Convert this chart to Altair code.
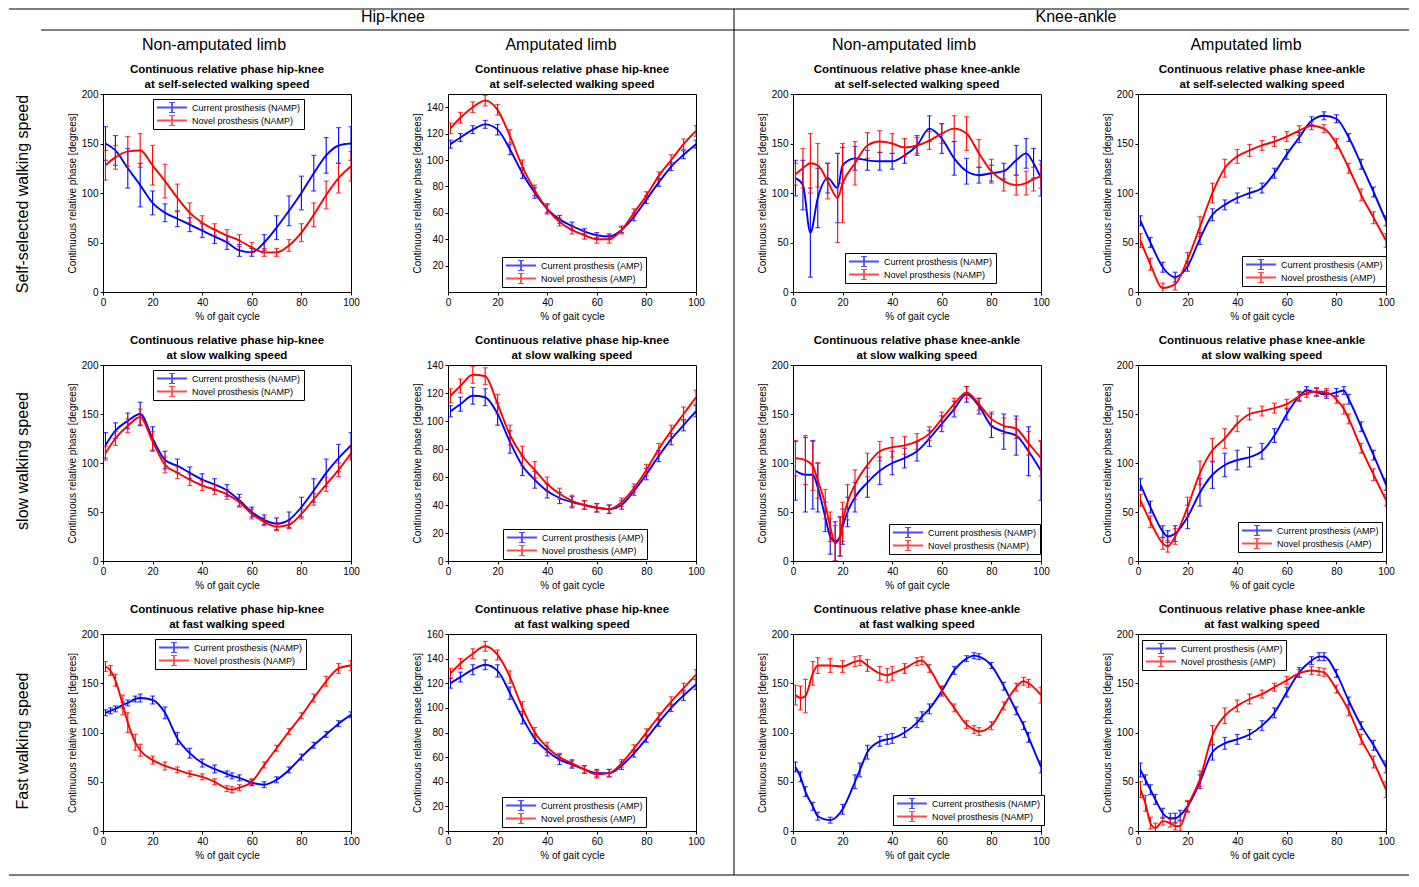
import altair as alt
import pandas as pd

FONT = "Liberation Sans"
BLUE = "#0000ff"
RED = "#ff0000"

# ---------------- data ----------------
X_GRID = [1, 5, 10, 15, 20, 25, 30, 35, 40, 45, 50, 55, 60, 65, 70, 75, 80, 85, 90, 95, 100]

# Row 1: self-selected speed
X11 = X_GRID
CUR_MEAN_11 = [150, 143, 125, 108, 90, 80, 74, 68, 62, 56, 50, 42, 40, 50, 65, 82, 100, 120, 138, 148, 150]
CUR_SD_11 = [17, 15, 20, 22, 12, 9, 8, 7, 7, 7, 7, 6, 4, 8, 12, 15, 17, 18, 18, 18, 17]
NOV_MEAN_11 = [128, 136, 142, 143, 128, 112, 95, 80, 70, 63, 57, 52, 45, 40, 40, 47, 60, 78, 98, 115, 127]
NOV_SD_11 = [15, 12, 15, 17, 20, 17, 14, 10, 7, 6, 6, 6, 5, 4, 4, 6, 9, 12, 14, 15, 15]

X12 = X_GRID
CUR_MEAN_12 = [112, 117, 123, 127, 123, 108, 90, 75, 63, 55, 50, 46, 43, 42, 47, 57, 70, 83, 95, 104, 112]
CUR_SD_12 = [3, 3, 3, 3, 4, 4, 4, 4, 3, 3, 3, 2, 2, 2, 2, 3, 3, 3, 3, 3, 3]
NOV_MEAN_12 = [124, 132, 140, 145, 138, 118, 95, 77, 63, 53, 47, 43, 40, 40, 47, 60, 73, 88, 100, 112, 122]
NOV_SD_12 = [4, 4, 4, 4, 4, 5, 5, 4, 4, 3, 3, 3, 3, 3, 3, 3, 3, 3, 4, 4, 4]

X13 = [1, 4, 7, 10, 14, 18, 20, 25, 30, 35, 40, 45, 50, 55, 60, 65, 70, 75, 80, 85, 90, 94, 97, 100]
CUR_MEAN_13 = [115, 108, 60, 95, 115, 105, 128, 135, 133, 132, 132, 138, 148, 165, 155, 135, 122, 118, 120, 122, 133, 140, 130, 115]
CUR_SD_13 = [18, 25, 45, 30, 15, 35, 18, 12, 10, 9, 8, 8, 10, 13, 15, 17, 13, 8, 8, 8, 15, 15, 15, 18]
NOV_MEAN_13 = [119, 125, 130, 128, 112, 95, 110, 130, 148, 152, 150, 146, 148, 153, 160, 165, 160, 140, 122, 112, 108, 110, 114, 117]
NOV_SD_13 = [11, 20, 30, 22, 18, 45, 40, 22, 13, 11, 10, 9, 8, 9, 10, 13, 17, 14, 12, 10, 10, 12, 12, 12]

X14 = X_GRID
CUR_MEAN_14 = [72, 50, 25, 15, 26, 54, 78, 88, 95, 100, 105, 120, 139, 156, 173, 178, 175, 156, 129, 101, 72]
CUR_SD_14 = [5, 5, 5, 5, 5, 6, 6, 5, 5, 5, 5, 5, 5, 5, 4, 4, 4, 4, 5, 5, 5]
NOV_MEAN_14 = [52, 28, 4, 8, 33, 66, 100, 125, 137, 143, 148, 152, 157, 163, 168, 165, 150, 125, 98, 75, 52]
NOV_SD_14 = [7, 6, 5, 6, 7, 10, 10, 9, 7, 6, 5, 5, 5, 5, 4, 4, 5, 5, 6, 6, 7]

# Row 2: slow speed
X21 = X_GRID
CUR_MEAN_21 = [118, 133, 143, 150, 125, 103, 97, 90, 83, 78, 72, 62, 50, 42, 38, 42, 55, 72, 90, 105, 118]
CUR_SD_21 = [13, 8, 8, 12, 12, 9, 7, 6, 6, 6, 6, 6, 5, 5, 6, 8, 10, 12, 14, 14, 13]
NOV_MEAN_21 = [110, 125, 138, 147, 122, 98, 90, 83, 77, 73, 68, 60, 48, 40, 35, 37, 48, 63, 78, 93, 110]
NOV_SD_21 = [7, 7, 7, 8, 10, 8, 6, 6, 5, 5, 5, 5, 5, 4, 4, 4, 5, 6, 7, 7, 7]

X22 = X_GRID
CUR_MEAN_22 = [107, 112, 118, 117, 105, 85, 68, 58, 50, 45, 42, 40, 38, 37, 40, 50, 62, 75, 87, 97, 107]
CUR_SD_22 = [4, 5, 6, 6, 8, 8, 7, 6, 5, 4, 4, 3, 3, 3, 3, 3, 4, 4, 4, 4, 4]
NOV_MEAN_22 = [118, 125, 133, 132, 112, 90, 75, 65, 55, 48, 43, 40, 38, 37, 42, 52, 65, 80, 93, 105, 117]
NOV_SD_22 = [5, 5, 6, 6, 7, 7, 7, 6, 5, 4, 4, 3, 3, 3, 3, 3, 4, 4, 4, 5, 5]

X23 = [1, 5, 8, 10, 13, 15, 17, 19, 20, 22, 25, 30, 35, 40, 45, 50, 55, 60, 65, 70, 75, 80, 85, 90, 95, 100]
CUR_MEAN_23 = [92, 88, 88, 75, 45, 25, 20, 25, 35, 50, 65, 80, 92, 100, 105, 112, 125, 140, 155, 170, 158, 138, 132, 128, 112, 92]
CUR_SD_23 = [30, 38, 35, 25, 15, 18, 20, 20, 18, 15, 15, 15, 14, 12, 10, 10, 8, 8, 8, 8, 8, 12, 18, 20, 25, 30]
NOV_MEAN_23 = [105, 103, 97, 82, 58, 35, 18, 25, 40, 60, 78, 98, 112, 116, 118, 122, 130, 145, 160, 172, 160, 145, 138, 135, 120, 105]
NOV_SD_23 = [18, 25, 25, 18, 15, 15, 18, 20, 20, 18, 15, 12, 10, 10, 9, 8, 7, 7, 6, 6, 6, 7, 8, 10, 12, 18]

X24 = [1, 5, 10, 12, 15, 20, 25, 30, 35, 40, 45, 50, 55, 60, 65, 68, 72, 76, 80, 83, 85, 90, 95, 100]
CUR_MEAN_24 = [78, 55, 30, 25, 28, 45, 70, 88, 98, 103, 106, 112, 128, 150, 168, 174, 172, 170, 172, 174, 165, 137, 108, 78]
CUR_SD_24 = [6, 6, 6, 6, 8, 12, 14, 14, 12, 10, 10, 8, 7, 6, 5, 4, 4, 4, 4, 4, 5, 5, 5, 6]
NOV_MEAN_24 = [62, 40, 18, 15, 25, 55, 90, 113, 125, 140, 150, 153, 156, 160, 168, 171, 173, 172, 165, 155, 145, 115, 88, 62]
NOV_SD_24 = [6, 6, 6, 6, 8, 10, 12, 12, 10, 8, 6, 5, 5, 5, 4, 4, 4, 4, 4, 5, 5, 5, 6, 6]

# Row 3: fast speed
X31 = [1, 3, 5, 8, 10, 13, 15, 20, 25, 30, 35, 40, 45, 50, 52, 55, 60, 65, 70, 75, 80, 85, 90, 95, 100]
CUR_MEAN_31 = [120, 122, 124, 128, 130, 134, 135, 133, 120, 94, 79, 69, 63, 58, 56, 54, 49, 47, 52, 62, 75, 87, 98, 109, 118]
CUR_SD_31 = [3, 3, 3, 3, 3, 3, 4, 4, 6, 6, 5, 4, 4, 3, 3, 3, 3, 3, 3, 3, 3, 3, 3, 3, 3]
NOV_MEAN_31 = [167, 163, 153, 128, 110, 90, 82, 72, 66, 62, 58, 55, 50, 43, 42, 44, 50, 67, 84, 101, 117, 135, 152, 165, 168]
NOV_SD_31 = [5, 5, 6, 10, 10, 8, 6, 4, 4, 3, 3, 3, 3, 3, 3, 3, 3, 3, 3, 3, 3, 4, 5, 5, 5]

X32 = X_GRID
CUR_MEAN_32 = [120, 125, 131, 135, 130, 112, 92, 75, 65, 58, 54, 50, 47, 47, 53, 63, 75, 88, 100, 110, 119]
CUR_SD_32 = [4, 4, 4, 4, 5, 5, 5, 4, 4, 4, 3, 3, 3, 3, 3, 3, 3, 3, 3, 4, 4]
NOV_MEAN_32 = [128, 136, 144, 150, 143, 125, 100, 80, 68, 60, 55, 50, 46, 47, 55, 67, 80, 93, 105, 116, 127]
NOV_SD_32 = [4, 4, 4, 4, 4, 5, 5, 4, 4, 3, 3, 3, 3, 3, 3, 3, 3, 3, 4, 4, 4]

X33 = [1, 3, 5, 8, 10, 15, 20, 25, 27, 30, 35, 38, 40, 45, 50, 52, 55, 60, 65, 70, 73, 75, 80, 85, 90, 93, 95, 100]
CUR_MEAN_33 = [65, 55, 40, 25, 15, 11, 22, 50, 62, 80, 91, 93, 94, 100, 110, 116, 124, 142, 163, 175, 178, 177, 168, 147, 122, 107, 95, 65]
CUR_SD_33 = [5, 5, 5, 4, 4, 3, 5, 7, 7, 7, 5, 5, 5, 5, 5, 5, 5, 5, 4, 3, 3, 3, 3, 4, 4, 4, 5, 6]
NOV_MEAN_33 = [138, 135, 137, 160, 168, 168, 167, 172, 173, 168, 160, 158, 160, 165, 172, 173, 165, 143, 125, 108, 103, 101, 107, 127, 146, 152, 150, 138]
NOV_SD_33 = [10, 12, 17, 12, 8, 7, 6, 5, 5, 6, 7, 7, 7, 5, 4, 4, 4, 4, 4, 4, 4, 4, 4, 4, 4, 4, 4, 8]

X34 = [1, 3, 5, 7, 10, 13, 15, 17, 20, 25, 30, 35, 40, 45, 50, 55, 60, 65, 70, 73, 75, 80, 85, 90, 95, 100]
CUR_MEAN_34 = [62, 52, 42, 32, 18, 13, 13, 16, 25, 50, 80, 89, 93, 98, 107, 120, 141, 161, 173, 177, 177, 160, 132, 107, 87, 65]
CUR_SD_34 = [7, 5, 5, 5, 5, 5, 5, 5, 5, 7, 8, 6, 5, 5, 5, 5, 5, 5, 4, 4, 4, 4, 4, 4, 5, 6]
NOV_MEAN_34 = [42, 28, 8, 3, 10, 8, 5, 5, 25, 53, 97, 117, 127, 134, 139, 146, 153, 160, 163, 162, 161, 144, 122, 93, 70, 42]
NOV_SD_34 = [8, 8, 6, 5, 4, 4, 4, 5, 6, 8, 10, 8, 6, 5, 4, 4, 4, 4, 4, 4, 4, 4, 5, 5, 6, 8]

TITLE_LINE1 = ["Continuous relative phase hip-knee", "Continuous relative phase hip-knee",
               "Continuous relative phase knee-ankle", "Continuous relative phase knee-ankle"]
TITLE_LINE2 = ["at self-selected walking speed", "at slow walking speed", "at fast walking speed"]
LIMB_TAGS = ["NAMP", "AMP", "NAMP", "AMP"]
TOP_HEADERS = ["Hip-knee", "Knee-ankle"]
SUB_HEADERS = ["Non-amputated limb", "Amputated limb", "Non-amputated limb", "Amputated limb"]
ROW_LABELS = ["Self-selected walking speed", "slow walking speed", "Fast walking speed"]

Y_TOP = {(0, 1): 150, (1, 1): 140, (2, 1): 160}
Y_TICKS = {(0, 1): [20, 40, 60, 80, 100, 120, 140],
           (1, 1): [0, 20, 40, 60, 80, 100, 120, 140],
           (2, 1): [0, 20, 40, 60, 80, 100, 120, 140, 160]}
X_TICKS = [0, 20, 40, 60, 80, 100]

PANEL_DATA = {
    (0, 0): (X11, CUR_MEAN_11, CUR_SD_11, NOV_MEAN_11, NOV_SD_11),
    (0, 1): (X12, CUR_MEAN_12, CUR_SD_12, NOV_MEAN_12, NOV_SD_12),
    (0, 2): (X13, CUR_MEAN_13, CUR_SD_13, NOV_MEAN_13, NOV_SD_13),
    (0, 3): (X14, CUR_MEAN_14, CUR_SD_14, NOV_MEAN_14, NOV_SD_14),
    (1, 0): (X21, CUR_MEAN_21, CUR_SD_21, NOV_MEAN_21, NOV_SD_21),
    (1, 1): (X22, CUR_MEAN_22, CUR_SD_22, NOV_MEAN_22, NOV_SD_22),
    (1, 2): (X23, CUR_MEAN_23, CUR_SD_23, NOV_MEAN_23, NOV_SD_23),
    (1, 3): (X24, CUR_MEAN_24, CUR_SD_24, NOV_MEAN_24, NOV_SD_24),
    (2, 0): (X31, CUR_MEAN_31, CUR_SD_31, NOV_MEAN_31, NOV_SD_31),
    (2, 1): (X32, CUR_MEAN_32, CUR_SD_32, NOV_MEAN_32, NOV_SD_32),
    (2, 2): (X33, CUR_MEAN_33, CUR_SD_33, NOV_MEAN_33, NOV_SD_33),
    (2, 3): (X34, CUR_MEAN_34, CUR_SD_34, NOV_MEAN_34, NOV_SD_34),
}

# ---------------- layout / style ----------------
COL_W = 248
ROW_H = [198, 196, 197]
SPACE_COL = 97
SPACE_ROW = 73
LEGEND_POS = {
    (0, 0): (50, 5), (0, 1): (54, 163), (0, 2): (52, 159), (0, 3): (104, 162),
    (1, 0): (50, 5), (1, 1): (55, 164), (1, 2): (96, 159), (1, 3): (100, 157),
    (2, 0): (52, 5), (2, 1): (54, 163), (2, 2): (100, 161), (2, 3): (4, 6),
}
# error-bar legend glyph: 30px wide line with a capped vertical bar (unit = 5px)
ERR_SYMBOL = "M-1,0H5M2,-1.1V1.1M1.4,-1.1H2.6M1.4,1.1H2.6"

ONE = alt.Data(values=[{"k": 1}])


def make_panel(r, c):
    xs, cm, cs, nm, ns = PANEL_DATA[(r, c)]
    tag = LIMB_TAGS[c]
    cur = f"Current prosthesis ({tag})"
    nov = f"Novel prosthesis ({tag})"
    rows = []
    for name, means, sds in ((cur, cm, cs), (nov, nm, ns)):
        for xv, m, s in zip(xs, means, sds):
            rows.append({"x": xv, "mean": m, "lo": m - s, "hi": m + s, "series": name})
    df = pd.DataFrame(rows)

    ytop = Y_TOP.get((r, c), 200)
    yticks = Y_TICKS.get((r, c), [0, 50, 100, 150, 200])
    xscale = alt.Scale(domain=[0, 100], nice=False, zero=False)
    yscale = alt.Scale(domain=[0, ytop], nice=False)
    xaxis = alt.Axis(values=X_TICKS, title="% of gait cycle", labelFlush=False)
    yaxis = alt.Axis(values=yticks, title="Continuous relative phase [degrees]")
    lx, ly = LEGEND_POS[(r, c)]
    cscale = alt.Scale(domain=[cur, nov], range=[BLUE, RED])
    legend = alt.Legend(title=None, orient="none", legendX=lx, legendY=ly,
                        strokeColor="black", fillColor="white", padding=3,
                        labelFont=FONT, labelFontSize=9, labelColor="black",
                        labelLimit=300, labelOffset=24, clipHeight=11,
                        symbolType=ERR_SYMBOL, symbolSize=100, symbolStrokeWidth=1.8,
                        symbolFillColor="transparent", rowPadding=2)

    base = alt.Chart(df)
    layers = []
    for name in (cur, nov):
        sub = base.transform_filter(alt.datum.series == name)
        color = alt.Color("series:N", scale=cscale, legend=legend)
        layers.append(sub.mark_rule(strokeWidth=1.1, clip=True).encode(
            x=alt.X("x:Q", scale=xscale, axis=xaxis),
            y=alt.Y("lo:Q", scale=yscale, axis=yaxis), y2="hi:Q", color=color))
        for fld in ("lo", "hi"):
            layers.append(sub.mark_tick(orient="horizontal", size=5, thickness=1.2, clip=True).encode(
                x=alt.X("x:Q", scale=xscale, axis=xaxis),
                y=alt.Y(f"{fld}:Q", scale=yscale, axis=yaxis), color=color))
        layers.append(sub.mark_line(strokeWidth=1.9, interpolate="monotone", clip=True).encode(
            x=alt.X("x:Q", scale=xscale, axis=xaxis),
            y=alt.Y("mean:Q", scale=yscale, axis=yaxis), color=color))
    # panel title (two bold lines centred over the plot)
    layers.append(alt.Chart(ONE).mark_text(
        text=[TITLE_LINE1[c], TITLE_LINE2[r]], font=FONT, fontSize=11.5, fontWeight="bold",
        lineHeight=15, align="center", baseline="middle", color="black"
    ).encode(x=alt.value(COL_W / 2), y=alt.value(-24)))
    return layers


def ann_text(s, x, y, size, angle=0):
    return alt.Chart(ONE).mark_text(text=s, font=FONT, fontSize=size, angle=angle, align="center",
                                    baseline="middle", color="black").encode(x=alt.value(x), y=alt.value(y))


def hline(x1, x2, y):
    return alt.Chart(ONE).mark_rule(color="black", strokeWidth=1).encode(
        x=alt.value(x1), x2=alt.value(x2), y=alt.value(y))


def vline(x, y1, y2):
    return alt.Chart(ONE).mark_rule(color="black", strokeWidth=1).encode(
        x=alt.value(x), y=alt.value(y1), y2=alt.value(y2))


# Annotation layers drawn relative to the first panel's plot origin (page 102, 93)
OX, OY = 102, 93
annotations = [
    hline(8 - OX, 1408 - OX, 8 - OY),
    hline(40 - OX, 1408 - OX, 29 - OY),
    hline(8 - OX, 1408 - OX, 874 - OY),
    vline(733 - OX, 8 - OY, 874 - OY),
    ann_text(TOP_HEADERS[0], 392 - OX, 16 - OY, 16),
    ann_text(TOP_HEADERS[1], 1075 - OX, 16 - OY, 16),
    ann_text(SUB_HEADERS[0], 213 - OX, 44 - OY, 16),
    ann_text(SUB_HEADERS[1], 560 - OX, 44 - OY, 16),
    ann_text(SUB_HEADERS[2], 903 - OX, 44 - OY, 16),
    ann_text(SUB_HEADERS[3], 1245 - OX, 44 - OY, 16),
    ann_text(ROW_LABELS[0], 22 - OX, 193 - OY, 16, 270),
    ann_text(ROW_LABELS[1], 22 - OX, 460 - OY, 16, 270),
    ann_text(ROW_LABELS[2], 22 - OX, 740 - OY, 16, 270),
]

panels = []
for r in range(3):
    for c in range(4):
        layers = make_panel(r, c)
        if (r, c) == (0, 0):
            layers = layers + annotations
        p = alt.layer(*layers).properties(width=COL_W, height=ROW_H[r])
        panels.append(p)

chart = alt.concat(
    *panels, columns=4, spacing={"row": SPACE_ROW, "column": SPACE_COL},
    bounds="flush", align="each"
).resolve_scale(
    x="independent", y="independent", color="independent"
).resolve_legend(color="independent").properties(
    padding=0, background="white"
).configure_view(
    stroke="black", strokeWidth=1
).configure_axis(
    grid=False, domainColor="black", domainWidth=1, tickColor="black", tickSize=3,
    labelFont=FONT, labelFontSize=10, labelColor="black", labelPadding=2,
    titleFont=FONT, titleFontSize=10, titleFontWeight="normal", titleColor="black", titlePadding=4
)

chart.save("out.html", embed_options={"renderer": "svg", "actions": False})
